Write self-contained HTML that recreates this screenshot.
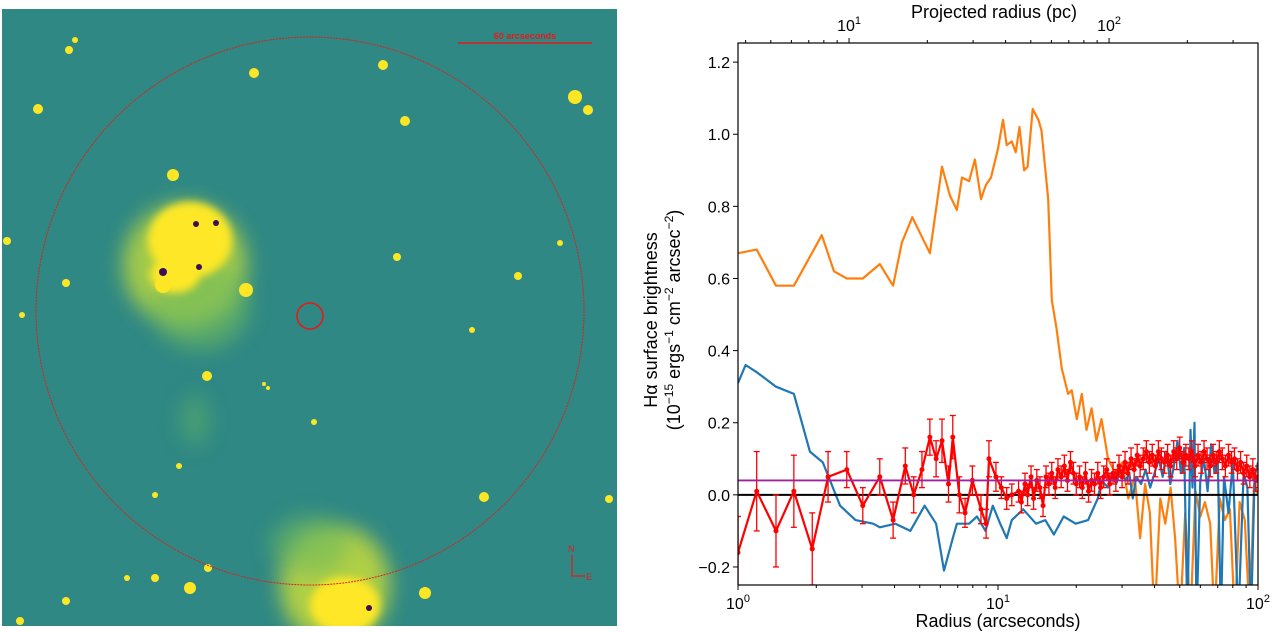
<!DOCTYPE html>
<html><head><meta charset="utf-8"><style>
body{margin:0;background:#fff;width:1273px;height:632px;overflow:hidden;font-family:"Liberation Sans",sans-serif}
svg{position:absolute;left:0;top:0}
</style></head><body>
<svg width="1273" height="632">
<defs>
<filter id="blur" x="-50%" y="-50%" width="200%" height="200%"><feGaussianBlur stdDeviation="10"/></filter>
<filter id="blur2" x="-50%" y="-50%" width="200%" height="200%"><feGaussianBlur stdDeviation="4"/></filter>
<clipPath id="imgclip"><rect x="2" y="9" width="615" height="617"/></clipPath>
<clipPath id="plotclip"><rect x="738" y="43" width="520" height="542"/></clipPath>
</defs>
<g clip-path="url(#imgclip)">
<rect x="2" y="9" width="615" height="617" fill="#2f8884"/>
<g filter="url(#blur)">
<ellipse cx="185" cy="265" rx="62" ry="62" fill="#b8d640" opacity="0.85"/>
<ellipse cx="200" cy="305" rx="50" ry="45" fill="#6fbb5c" opacity="0.6"/>
<ellipse cx="335" cy="585" rx="55" ry="60" fill="#c8dc3a" opacity="0.85"/>
<ellipse cx="310" cy="545" rx="40" ry="30" fill="#6cb95e" opacity="0.6"/>
<ellipse cx="195" cy="420" rx="15" ry="25" fill="#5fb562" opacity="0.5"/>
</g>
<g filter="url(#blur2)" fill="#fde725">
<ellipse cx="190" cy="240" rx="42" ry="38"/>
<ellipse cx="175" cy="275" rx="25" ry="18"/>
<ellipse cx="345" cy="605" rx="35" ry="28"/>
</g>
<g fill="#fde725">
<circle cx="69" cy="50" r="4"/><circle cx="75" cy="40" r="3"/><circle cx="38" cy="109" r="5"/>
<circle cx="254" cy="73" r="5"/><circle cx="383" cy="65" r="5"/><circle cx="405" cy="121" r="5"/>
<circle cx="173" cy="175" r="6"/><circle cx="575" cy="97" r="7"/><circle cx="588" cy="110" r="5"/>
<circle cx="7" cy="241" r="4"/><circle cx="66" cy="283" r="4"/><circle cx="163" cy="285" r="8"/>
<circle cx="246" cy="290" r="7"/><circle cx="397" cy="257" r="4"/><circle cx="518" cy="276" r="4"/>
<circle cx="207" cy="376" r="5"/><circle cx="22" cy="315" r="3"/><circle cx="472" cy="330" r="3"/>
<circle cx="560" cy="243" r="3"/><circle cx="314" cy="422" r="3"/><circle cx="179" cy="466" r="3"/>
<circle cx="484" cy="497" r="5"/><circle cx="609" cy="499" r="4"/><circle cx="155" cy="495" r="3"/>
<circle cx="208" cy="568" r="4"/><circle cx="190" cy="588" r="6"/><circle cx="155" cy="578" r="4"/>
<circle cx="127" cy="578" r="3"/><circle cx="66" cy="601" r="4"/><circle cx="425" cy="593" r="6"/>
<circle cx="20" cy="621" r="4"/><circle cx="268" cy="388" r="2"/><circle cx="264" cy="384" r="2"/>
</g>
<g fill="#3a0f55"><circle cx="196" cy="224" r="3"/><circle cx="216" cy="223" r="3"/><circle cx="199" cy="267" r="3"/><circle cx="163" cy="272" r="4"/><circle cx="369" cy="608" r="3"/></g>
<circle cx="310" cy="311" r="274" fill="none" stroke="#e0201a" stroke-width="1" stroke-dasharray="2 1"/>
<circle cx="310" cy="316" r="13" fill="none" stroke="#e41a1a" stroke-width="1.6"/>
<line x1="458" y1="43" x2="592" y2="43" stroke="#e41a1a" stroke-width="1.5"/>
<text x="525" y="39" font-size="9" font-weight="bold" fill="#e41a1a" text-anchor="middle">60 arcseconds</text>
<text x="568" y="552" font-size="9" fill="#e41a1a">N</text>
<path d="M572 555 V576 H585" stroke="#e41a1a" fill="none" stroke-width="1.2"/>
<text x="586" y="580" font-size="9" fill="#e41a1a">E</text>
</g>
<g id="chart"></g>
</svg>
<script>
// data
const orangeX=[1.0,1.18,1.40,1.64,2.10,2.34,2.62,3.02,3.51,3.95,4.27,4.68,5.47,6.09,6.53,6.95,7.27,7.74,8.15,8.60,8.99,9.40,10.0,10.45,10.8,11.3,11.7,12.1,12.6,13.0,13.6,14.3,14.7,15.6,16.1,16.8,17.6,18.6,19.2,20.1,21.0,21.9,22.9,23.9,25.0,26.5,28.2,30.0,31.7,33.6,35.2,36.8,38.4,40.0,42.1,44.0,46.1,48.0,50.1,52.5,54.9,57.5,60.0,62.5,65.5,68.0,71.3,74.5,78.0,81.5,85.0,89.0,93.0,96.5,100];
const orangeY=[0.67,0.68,0.58,0.58,0.72,0.62,0.60,0.60,0.64,0.58,0.70,0.77,0.67,0.91,0.83,0.79,0.88,0.87,0.93,0.82,0.86,0.88,0.96,1.04,0.97,0.98,0.95,1.02,0.90,0.91,1.07,1.04,1.01,0.82,0.54,0.46,0.35,0.28,0.29,0.21,0.28,0.18,0.24,0.15,0.21,0.10,0.06,0.09,-0.01,0.05,-0.12,0.03,-0.05,-0.35,-0.01,-0.08,0.02,-0.12,-0.35,-0.05,-0.35,0.01,-0.06,-0.02,-0.08,-0.35,-0.01,-0.07,-0.04,-0.35,-0.02,-0.07,-0.35,0.03,0.0];
const blueX=[1.0,1.07,1.18,1.40,1.64,1.89,2.12,2.47,2.83,3.31,3.51,4.03,4.60,5.22,5.78,6.20,6.70,6.95,7.74,8.30,8.95,9.55,10.2,10.8,11.3,12.5,14.0,15.2,16.4,17.9,19.9,22.2,24.2,25.0,26.5,27.5,28.5,29.5,31.0,32.0,33.0,34.0,35.5,37.0,38.5,40.0,41.5,43.0,44.5,46.0,47.5,49.0,50.5,52.0,53.5,55.0,56.0,57.0,58.0,60.0,62.0,64.0,66.0,68.0,70.0,72.0,74.0,77.0,80.0,84.0,88.0,91.0,94.0,97.0,100];
const blueY=[0.31,0.36,0.34,0.30,0.28,0.12,0.09,-0.03,-0.07,-0.08,-0.09,-0.08,-0.10,-0.03,-0.08,-0.21,-0.12,-0.08,-0.08,-0.06,-0.10,-0.03,-0.08,-0.12,-0.07,-0.04,-0.08,-0.07,-0.11,-0.06,-0.08,-0.07,-0.01,0.04,0.02,0.06,0.03,0.07,0.04,0.06,-0.01,0.05,0.03,0.07,0.02,0.06,0.10,0.05,0.12,0.03,0.08,0.15,0.06,0.13,-0.35,0.18,0.02,0.20,-0.35,0.04,0.10,0.01,0.14,0.06,0.11,-0.35,0.05,-0.05,0.09,-0.35,0.06,0.02,-0.35,0.05,0.09];
const redX=[1.0,1.18,1.40,1.64,1.93,2.22,2.62,3.02,3.51,3.95,4.40,4.74,5.10,5.47,5.78,6.09,6.45,6.70,7.10,7.47,7.97,8.60,9.00,9.23,9.82,10.3,10.8,11.3,
12.0,12.3,12.7,13.0,13.4,13.7,14.1,14.5,14.9,15.3,
15.7,16.1,16.6,17.0,17.5,18.0,18.5,19.0,19.5,20.0,
20.6,21.1,21.7,22.3,22.9,23.5,24.2,24.8,25.5,26.2,
26.9,27.7,28.4,29.2,30.0,30.8,31.6,32.5,33.4,34.3,
35.2,36.2,37.2,38.2,39.2,40.3,41.4,42.5,43.7,44.9,
46.1,47.4,48.7,50.0,51.4,52.8,54.2,55.7,57.2,58.8,
60.4,62.0,63.7,65.5,67.2,69.1,71.0,72.9,74.9,77.0,
79.1,81.2,83.4,85.7,88.1,90.5,93.0,95.5,98.1,100];
const redY=[-0.16,0.01,-0.10,0.01,-0.15,0.05,0.07,-0.03,0.05,-0.07,0.08,0.0,0.07,0.16,0.10,0.15,0.03,0.16,0.0,-0.05,0.04,-0.04,-0.08,0.10,0.05,0.02,-0.01,0.0,
0.01,-0.02,0.03,0.00,0.05,-0.01,0.04,0.02,-0.03,0.05,
0.03,0.06,0.02,0.07,0.05,0.08,0.04,0.09,0.06,0.03,
0.05,0.02,0.06,0.01,0.04,0.03,0.06,0.02,0.05,0.07,
0.03,0.06,0.04,0.08,0.05,0.09,0.06,0.10,0.07,0.11,
0.08,0.10,0.12,0.09,0.11,0.08,0.12,0.10,0.09,0.11,
0.08,0.12,0.10,0.13,0.09,0.11,0.10,0.12,0.08,0.11,
0.09,0.12,0.10,0.08,0.11,0.09,0.12,0.10,0.08,0.11,
0.09,0.10,0.07,0.09,0.06,0.08,0.05,0.07,0.04,0.05];
const redErr=[0.1,0.11,0.1,0.1,0.1,0.07,0.05,0.05,0.05,0.05,0.05,0.05,0.05,0.05,0.05,0.06,0.05,0.06,0.05,0.04,0.04,0.04,0.04,0.05,0.04,0.03,0.03,0.03];
const redErrDense=[0.03];
const meanLevel=[0.04];
const yTicks=[-0.2,0.0,0.2,0.4,0.6,0.8,1.0,1.2];
const yTickLabels=["\u22120.2","0.0","0.2","0.4","0.6","0.8","1.0","1.2"];
const pcPerArcsec=[3.74];

const NS="http://www.w3.org/2000/svg";
const L=738,R=1258,T=43,B=585,YMIN=-0.25,YMAX=1.253;
const sx=v=>L+(Math.log10(v))/2*(R-L);
const sy=v=>B-(v-YMIN)/(YMAX-YMIN)*(B-T);
const chart=document.getElementById('chart');
function mk(tag,attrs,parent){const e=document.createElementNS(NS,tag);for(const k in attrs)e.setAttribute(k,attrs[k]);(parent||chart).appendChild(e);return e;}
const plot=mk('g',{'clip-path':'url(#plotclip)'});


function line(xs,ys,color,w,name){const d=xs.map((x,i)=>(i?'L':'M')+sx(x).toFixed(1)+' '+sy(ys[i]).toFixed(1)).join('');const p=mk('path',{d:d,fill:'none',stroke:color,'stroke-width':w,'stroke-linejoin':'round'},plot);


return p;}
line(orangeX,orangeY,'#ff7f0e',2.2,'orange-series');
line(blueX,blueY,'#1f77b4',2.2,'blue-series');
const zl=mk('line',{x1:L,x2:R,y1:sy(0),y2:sy(0),stroke:'#000','stroke-width':2},plot);


const eg=mk('g',{stroke:'#ff0000','stroke-width':1.3},plot);


redX.forEach((x,i)=>{const e=i<redErr.length?redErr[i]:redErrDense[0];const X=sx(x),y1=sy(redY[i]+e),y2=sy(redY[i]-e);
mk('line',{x1:X,x2:X,y1:y1,y2:y2},eg);mk('line',{x1:X-3,x2:X+3,y1:y1,y2:y1},eg);mk('line',{x1:X-3,x2:X+3,y1:y2,y2:y2},eg);});
line(redX,redY,'#ff0000',2.2,'red-series');
redX.forEach((x,i)=>{const c=mk('circle',{cx:sx(x),cy:sy(redY[i]),r:2.5,fill:'#ff0000'},plot);

});
const ml=mk('line',{x1:L,x2:R,y1:sy(meanLevel[0]),y2:sy(meanLevel[0]),stroke:'#a0209f','stroke-width':1.8},plot);


const fr=mk('rect',{x:L,y:T,width:R-L,height:B-T,fill:'none',stroke:'#000','stroke-width':1.2});


yTicks.forEach((v,i)=>{const y=sy(v);mk('line',{x1:L-5,x2:L,y1:y,y2:y,stroke:'#000'});
const t=mk('text',{x:L-8,y:y+6,'font-size':16,'text-anchor':'end'});t.textContent=yTickLabels[i];

});
for(let d=0;d<=2;d++){for(let m=1;m<10;m++){const v=m*Math.pow(10,d);if(v>100)break;const X=sx(v);mk('line',{x1:X,x2:X,y1:B,y2:B+(m==1?5:3),stroke:'#000'});}
const t=mk('text',{x:sx(Math.pow(10,d)),y:B+24,'font-size':16,'text-anchor':'middle'});t.innerHTML='10<tspan dy="-7" font-size="11">'+d+'</tspan>';

}
const k=pcPerArcsec[0];
for(let d=0;d<=3;d++){for(let m=1;m<10;m++){const v=m*Math.pow(10,d);const a=v/k;if(a<1||a>100)continue;const X=sx(a);mk('line',{x1:X,x2:X,y1:T,y2:T-(m==1?5:3),stroke:'#000'});
if(m==1){const t=mk('text',{x:X,y:T-12,'font-size':16,'text-anchor':'middle'});t.innerHTML='10<tspan dy="-7" font-size="11">'+d+'</tspan>';

}}}
const xl=mk('text',{x:(L+R)/2,y:627,'font-size':18,'text-anchor':'middle'});xl.textContent='Radius (arcseconds)';


const tl=mk('text',{x:(L+R)/2-4,y:18,'font-size':18,'text-anchor':'middle'});tl.textContent='Projected radius (pc)';


const yl=mk('text',{transform:'translate(657,320) rotate(-90)','font-size':18,'text-anchor':'middle'});yl.innerHTML='H\u03b1 surface brightness';


const yl2=mk('text',{transform:'translate(680,320) rotate(-90)','font-size':18,'text-anchor':'middle'});yl2.innerHTML='(10<tspan dy="-7" font-size="12">\u221215</tspan><tspan dy="7"> ergs</tspan><tspan dy="-7" font-size="12">\u22121</tspan><tspan dy="7"> cm</tspan><tspan dy="-7" font-size="12">\u22122</tspan><tspan dy="7"> arcsec</tspan><tspan dy="-7" font-size="12">\u22122</tspan><tspan dy="7">)</tspan>';


</script>
</body></html>
